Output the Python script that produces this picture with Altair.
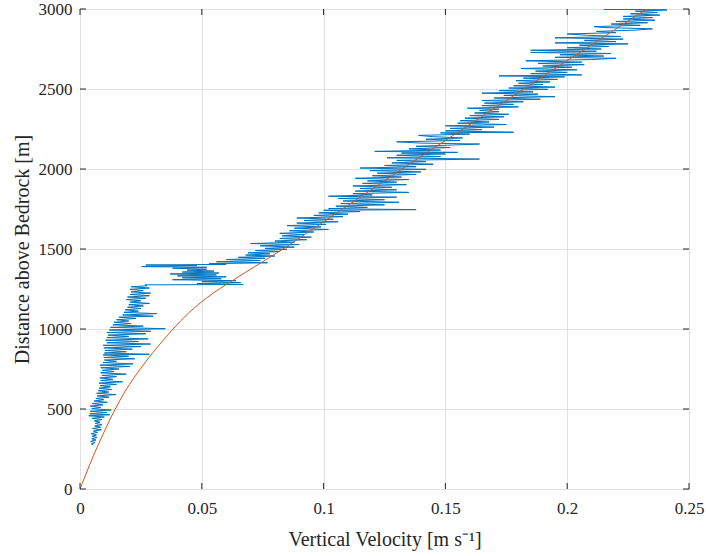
import altair as alt
import pandas as pd

# ---- data ----
lower_d = [275, 282, 290, 298, 306, 314, 322, 330, 338, 346,
           354, 362, 370, 378, 386, 394, 402, 410, 418, 426,
           434, 442, 450, 458, 464, 470, 478, 486, 494, 502,
           510, 518, 526, 534, 542, 550, 558, 566, 574, 582,
           590, 598, 606, 614, 622, 630, 638, 646, 654, 662,
           670, 678, 686, 694, 702, 710, 718, 726, 734, 742,
           750, 758, 766, 774, 782, 790, 798, 806, 814, 822,
           830, 838, 842, 850, 858, 866, 874, 882, 890, 898,
           906, 914, 922, 930, 938, 946, 954, 962, 970, 978,
           986, 994, 1002, 1010, 1018, 1026, 1034, 1042, 1050, 1058,
           1066, 1074, 1080, 1088, 1096, 1104, 1112, 1120, 1128, 1136,
           1144, 1152, 1160, 1168, 1176, 1184, 1192, 1200, 1208, 1216,
           1224, 1232, 1240, 1248, 1256, 1264, 1270, 1276, 1278]
lower_v = [.0055, .0046, .0062, .0044, .0066, .0048, .0070, .0050, .0068, .0045,
           .0072, .0055, .0088, .0052, .0085, .0060, .0090, .0062, .0082, .0058,
           .0090, .0050, .0100, .0036, .0122, .0040, .0110, .0042, .0128, .0048,
           .0085, .0042, .0095, .0050, .0112, .0058, .0098, .0065, .0120, .0070,
           .0148, .0068, .0118, .0075, .0130, .0078, .0125, .0082, .0150, .0078,
           .0175, .0085, .0135, .0082, .0150, .0090, .0190, .0085, .0140, .0092,
           .0160, .0085, .0205, .0082, .0218, .0095, .0150, .0100, .0225, .0098,
           .0200, .0095, .0285, .0100, .0190, .0102, .0215, .0098, .0250, .0095,
           .0290, .0110, .0240, .0105, .0280, .0110, .0200, .0115, .0270, .0110,
           .0290, .0120, .0350, .0125, .0260, .0135, .0210, .0140, .0200, .0150,
           .0230, .0160, .0300, .0175, .0315, .0180, .0240, .0185, .0250, .0195,
           .0260, .0200, .0285, .0205, .0250, .0190, .0270, .0195, .0285, .0205,
           .0290, .0210, .0260, .0205, .0285, .0210, .0275, .0267, .0670]

mid_d = [1284, 1290, 1296, 1302, 1308, 1314, 1320, 1326, 1332, 1338,
         1344, 1350, 1356, 1362, 1368, 1374, 1380, 1386, 1390, 1396,
         1400, 1404, 1408, 1414, 1420, 1428, 1434, 1442, 1448, 1456,
         1462, 1470, 1476, 1484, 1490, 1498]
mid_v = [.0480, .0660, .0500, .0640, .0380, .0580, .0420, .0600, .0400, .0560,
         .0370, .0570, .0420, .0550, .0440, .0520, .0380, .0520, .0253, .0480,
         .0270, .0600, .0530, .0770, .0560, .0740, .0600, .0760, .0650, .0800,
         .0680, .0780, .0690, .0820, .0720, .0850]

up_d = [1504, 1512, 1520, 1528, 1534, 1542, 1550, 1558, 1566, 1574,
        1582, 1590, 1598, 1606, 1614, 1622, 1630, 1638, 1646, 1654,
        1662, 1670, 1678, 1686, 1694, 1702, 1710, 1718, 1726, 1734,
        1742, 1746, 1752, 1760, 1768, 1776, 1784, 1792, 1800, 1808,
        1816, 1824, 1830, 1838, 1846, 1854, 1862, 1870, 1878, 1886,
        1894, 1902, 1910, 1918, 1926, 1934, 1942, 1950, 1958, 1966,
        1974, 1982, 1990, 1998, 2006, 2014, 2022, 2030, 2038, 2046,
        2054, 2062, 2070, 2078, 2086, 2094, 2100, 2104, 2110, 2118,
        2126, 2134, 2142, 2150, 2156, 2162, 2170, 2178, 2186, 2194,
        2202, 2210, 2218, 2226, 2230, 2238, 2246, 2254, 2262, 2270,
        2278, 2286, 2294, 2302, 2310, 2318, 2326, 2334, 2342, 2350,
        2358, 2366, 2374, 2380, 2388, 2396, 2404, 2412, 2420, 2428,
        2436, 2444, 2452, 2460, 2468, 2474, 2482, 2490, 2498, 2506,
        2512, 2520, 2528, 2536, 2544, 2552, 2560, 2568, 2576, 2582,
        2588, 2596, 2604, 2612, 2620, 2628, 2636, 2644, 2652, 2660,
        2668, 2676, 2684, 2692, 2698, 2706, 2714, 2722, 2728, 2736,
        2742, 2750, 2758, 2766, 2774, 2782, 2788, 2796, 2804, 2812,
        2820, 2828, 2836, 2844, 2852, 2860, 2868, 2876, 2884, 2890,
        2898, 2906, 2914, 2922, 2930, 2938, 2946, 2954, 2962, 2970,
        2978, 2986, 2994, 2998, 3000]
up_v = [.0760, .0880, .0740, .0900, .0700, .0880, .0800, .0930, .0820, .0950,
        .0830, .0920, .0820, .0960, .0860, .1020, .0880, .0990, .0850, .1010,
        .0890, .1060, .0920, .1040, .0890, .1080, .0960, .1100, .0980, .1150,
        .1000, .1380, .1020, .1180, .1050, .1250, .1070, .1310, .1080, .1250,
        .1060, .1300, .1020, .1200, .1120, .1350, .1130, .1300, .1150, .1280,
        .1120, .1340, .1160, .1300, .1180, .1350, .1130, .1320, .1200, .1380,
        .1220, .1400, .1190, .1420, .1150, .1380, .1250, .1450, .1280, .1420,
        .1300, .1640, .1260, .1480, .1300, .1500, .1320, .1550, .1210, .1480,
        .1350, .1520, .1380, .1530, .1640, .1400, .1300, .1560, .1420, .1570,
        .1450, .1390, .1600, .1480, .1780, .1500, .1650, .1520, .1700, .1500,
        .1750, .1550, .1680, .1560, .1720, .1580, .1740, .1600, .1760, .1620,
        .1720, .1640, .1720, .1590, .1800, .1650, .1780, .1660, .1820, .1650,
        .1890, .1700, .1950, .1740, .1880, .1650, .1860, .1720, .1920, .1760,
        .1950, .1780, .1900, .1800, .1930, .1790, .1960, .1820, .1990, .1720,
        .2060, .1850, .2000, .1870, .2040, .1810, .2020, .1900, .2070, .1880,
        .2060, .1830, .2100, .2200, .1950, .2150, .1970, .2180, .1850, .2120,
        .1850, .2140, .2000, .2170, .2050, .2250, .1950, .2200, .2070, .2230,
        .1950, .2220, .2080, .2000, .2200, .2120, .2280, .2350, .2150, .2110,
        .2300, .2180, .2330, .2200, .2360, .2230, .2350, .2230, .2380, .2260,
        .2370, .2280, .2410, .2150, .2400]

model_d = [0, 50, 100, 150, 200, 250, 300, 350, 400, 450, 500, 600, 700, 800, 900, 1000,
           1100, 1200, 1300, 1400, 1500, 1600, 1800, 2000, 2200, 2400, 2600, 2800, 3000]
model_v = [0, 0.0013, 0.0026, 0.0039, 0.0053, 0.0067, 0.0082, 0.0097, 0.0112, 0.0128,
           0.0145, 0.0181, 0.0224, 0.0272, 0.0325, 0.0382, 0.0446, 0.0525, 0.0623,
           0.0728, 0.0833, 0.0932, 0.1127, 0.1322, 0.1522, 0.1722, 0.1922, 0.2124, 0.2326]

x_ticks = [0, 0.05, 0.1, 0.15, 0.2, 0.25]
y_ticks = [0, 500, 1000, 1500, 2000, 2500, 3000]

# ---- layout / style ----
W, H = 609, 480
FONT = "Liberation Serif"
TXT = "#262626"
BLUE = "#0072BD"
ORANGE = "#D95319"
TL = 6  # tick length

obs_d = lower_d + mid_d + up_d
obs_v = lower_v + mid_v + up_v
obs = pd.DataFrame({"d": obs_d, "v": obs_v, "i": list(range(len(obs_d)))})
mod = pd.DataFrame({"d": model_d, "v": model_v, "i": list(range(len(model_d)))})
xt = pd.DataFrame({"v": x_ticks})
yt = pd.DataFrame({"d": y_ticks})

xs = alt.Scale(domain=[0, 0.25], nice=False, zero=False)
ys = alt.Scale(domain=[0, 3000], nice=False, zero=False)

x_axis = alt.Axis(
    values=x_ticks, format="~g", title="Vertical Velocity [m s\u207b\u00b9]",
    grid=True, ticks=False, domain=False, labelFlush=False,
    labelPadding=11, labelFontSize=17, labelFont=FONT, labelColor=TXT,
    titleFont=FONT, titleFontSize=20, titleFontWeight="normal", titleColor=TXT,
    titleX=W / 2, titleY=56, titleAlign="center", titleBaseline="alphabetic",
)
y_axis = alt.Axis(
    values=y_ticks, format="d", title="Distance above Bedrock [m]",
    grid=True, ticks=False, domain=False, labelFlush=False,
    labelPadding=8, labelFontSize=17, labelFont=FONT, labelColor=TXT,
    titleFont=FONT, titleFontSize=20, titleFontWeight="normal", titleColor=TXT,
    titleAngle=270, titleX=-52, titleY=H / 2, titleAlign="center",
    titleBaseline="alphabetic",
)

X = alt.X("v:Q", scale=xs, axis=x_axis)
Y = alt.Y("d:Q", scale=ys, axis=y_axis)

blue = alt.Chart(obs).mark_line(color=BLUE, strokeWidth=1, clip=True).encode(
    x=X, y=Y, order=alt.Order("i:Q"),
)
orange = alt.Chart(mod).mark_line(color=ORANGE, strokeWidth=1, clip=True,
                                  interpolate="monotone").encode(
    x=X, y=Y, order=alt.Order("i:Q"),
)

tick_style = dict(color=TXT, strokeWidth=1)
xb = alt.Chart(xt).mark_rule(**tick_style).encode(
    x=X, y=alt.value(H), y2=alt.value(H - TL))
xtop = alt.Chart(xt).mark_rule(**tick_style).encode(
    x=X, y=alt.value(0), y2=alt.value(TL))
yl = alt.Chart(yt).mark_rule(**tick_style).encode(
    y=Y, x=alt.value(0), x2=alt.value(TL))
yr = alt.Chart(yt).mark_rule(**tick_style).encode(
    y=Y, x=alt.value(W), x2=alt.value(W - TL))

chart = alt.layer(blue, orange, xb, xtop, yl, yr).properties(
    width=W, height=H,
    autosize=alt.AutoSizeParams(type="none"),
    padding={"left": 80, "top": 9, "right": 17, "bottom": 67},
    background="white",
).configure_view(
    stroke=TXT, strokeWidth=1
).configure_axis(
    gridColor="#e0e0e0", gridWidth=1,
)

chart.save("out.html", embed_options={"renderer": "svg", "actions": False})
